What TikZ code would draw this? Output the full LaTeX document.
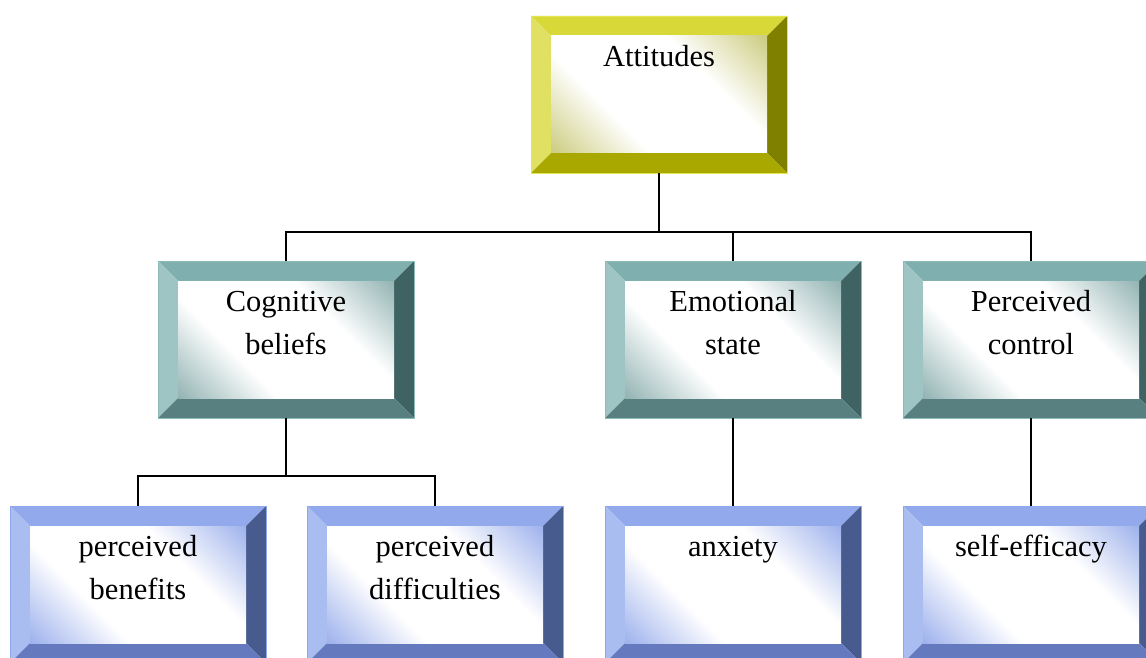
\documentclass[tikz,border=0pt]{standalone}
\usepackage{fontspec}
\setmainfont{Liberation Serif}
\usetikzlibrary{calc}
% yellow palette
\definecolor{yeltop}{HTML}{D8D838}
\definecolor{yelleft}{HTML}{E0E062}
\definecolor{yelright}{HTML}{808000}
\definecolor{yelbot}{HTML}{A8A800}
\definecolor{yeltint}{HTML}{C6C672}
\definecolor{yelline}{HTML}{E4E450}
% teal palette
\definecolor{teatop}{HTML}{7FAFAF}
\definecolor{tealeft}{HTML}{9EC4C4}
\definecolor{tearight}{HTML}{3F6262}
\definecolor{teabot}{HTML}{588080}
\definecolor{teatint}{HTML}{86AAAA}
\definecolor{tealine}{HTML}{8ABABA}
% blue palette
\definecolor{blutop}{HTML}{92AAEB}
\definecolor{bluleft}{HTML}{A9BDF1}
\definecolor{bluright}{HTML}{485B8E}
\definecolor{blubot}{HTML}{657ABE}
\definecolor{blutint}{HTML}{92A8EA}
\definecolor{bluline}{HTML}{8EA6EC}
\colorlet{bevtint}{white}
\pgfdeclareverticalshading[bevtint]{bevshade}{100bp}{color(0bp)=(bevtint); color(12bp)=(bevtint); color(36bp)=(white); color(64bp)=(white); color(88bp)=(bevtint); color(100bp)=(bevtint)}
\newcommand\bevelpic[1]{%
  \coordinate (bSW) at (path picture bounding box.south west);
  \coordinate (bNE) at (path picture bounding box.north east);
  \coordinate (bNW) at (bSW |- bNE);
  \coordinate (bSE) at (bNE |- bSW);
  \fill[#1top] (bNW) -- (bNE) -- ([shift={(-20pt,-20pt)}]bNE) -- ([shift={(20pt,-20pt)}]bNW) -- cycle;
  \fill[#1left] (bNW) -- ([shift={(20pt,-20pt)}]bNW) -- ([shift={(20pt,20pt)}]bSW) -- (bSW) -- cycle;
  \fill[#1right] (bNE) -- (bSE) -- ([shift={(-20pt,20pt)}]bSE) -- ([shift={(-20pt,-20pt)}]bNE) -- cycle;
  \fill[#1bot] (bSW) -- (bSE) -- ([shift={(-20pt,20pt)}]bSE) -- ([shift={(20pt,20pt)}]bSW) -- cycle;
  \colorlet{bevtint}{#1tint}%
  \shade[shading=bevshade, shading angle=-45] ([shift={(20pt,20pt)}]bSW) rectangle ([shift={(-20pt,-20pt)}]bNE);
}
\newcommand\boxtext[1]{\parbox[b][157pt][t]{256pt}{\centering\fontsize{30.5}{43}\selectfont\rule{0pt}{50.5pt}#1}}
\tikzset{
  bevbox/.style={rectangle, inner sep=0pt, outer sep=0pt, anchor=north west,
    draw=#1line, line width=0.8pt, path picture={\bevelpic{#1}}},
  conn/.style={draw=black, line width=1.5pt}
}
\begin{document}
\begin{tikzpicture}[x=1pt,y=-1pt]
\useasboundingbox (0,0) rectangle (1146,658);
\clip (0,0) rectangle (1146,658);
\node[bevbox=yel] (att) at (531,16) {\boxtext{Attitudes}};
\node[bevbox=tea] (cog) at (158,261) {\boxtext{Cognitive\\beliefs}};
\node[bevbox=tea] (emo) at (605,261) {\boxtext{Emotional\\state}};
\node[bevbox=tea] (pc) at (903,261) {\boxtext{Perceived\\control}};
\node[bevbox=blu] (pb) at (10,506) {\boxtext{perceived\\benefits}};
\node[bevbox=blu] (pd) at (307,506) {\boxtext{perceived\\difficulties}};
\node[bevbox=blu] (anx) at (605,506) {\boxtext{anxiety}};
\node[bevbox=blu] (se) at (903,506) {\boxtext{self-efficacy}};
\coordinate (j1) at (659,232);
\coordinate (j2) at (286,476);
\draw[conn] (att.south) -- (j1);
\draw[conn] (cog.north) |- (j1) -| (pc.north);
\draw[conn] (j1 -| emo.north) -- (emo.north);
\draw[conn] (cog.south) -- (j2);
\draw[conn] (pb.north) |- (j2) -| (pd.north);
\draw[conn] (emo.south) -- (anx.north);
\draw[conn] (pc.south) -- (se.north);
\end{tikzpicture}
\end{document}
